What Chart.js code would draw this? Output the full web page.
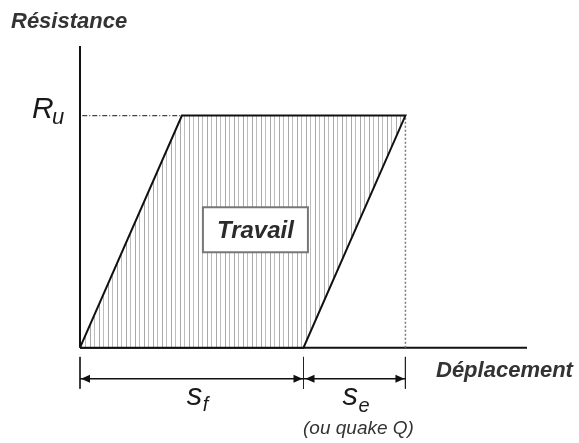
<!DOCTYPE html>
<html>
<head>
<meta charset="utf-8">
<script src="https://cdn.jsdelivr.net/npm/chart.js@4"></script>
<style>
  html, body { margin: 0; padding: 0; background: #fff; }
  #c { display: block; }
</style>
</head>
<body>
<canvas id="c" width="579" height="443"></canvas>
<script>
// values (displacement units, resistance as fraction of Ru)
const SF = 10;            // s_f
const SE = 4.56;          // s_e (quake Q)
const RU = 1;             // R_u
const workX = [0, SE, SF + SE, SF, 0];
const workY = [0, RU, RU, 0, 0];
const axisXEnd = 20;
const axisYEnd = 1.3;
const dimY = -0.134;
const dimTick = [-0.04, -0.177];
const dimMarks = [0, SF, SF + SE];

const font = '"Liberation Sans", Arial, sans-serif';

function hatch() {
  const p = document.createElement("canvas");
  p.width = 9; p.height = 4;
  const g = p.getContext("2d");
  g.fillStyle = "#fff";
  g.fillRect(0, 0, 9, 4);
  g.fillStyle = "#a8a8a8";
  g.fillRect(0, 0, 1, 4);
  g.fillStyle = "#bcbcbc";
  g.fillRect(4, 0, 1, 4);
  return document.getElementById("c").getContext("2d").createPattern(p, "repeat");
}

const pts = (xs, ys) => xs.map((x, i) => ({ x, y: ys[i] }));
const line = (data, color, width, dash) => ({
  data, borderColor: color, borderWidth: width, borderDash: dash || [],
  pointRadius: 0, fill: false, showLine: true, clip: false, tension: 0,
});

const labels = {
  id: "labels",
  afterDatasetsDraw(chart) {
    const { ctx, scales: { x, y } } = chart;
    ctx.save();
    // arrow heads on dimension lines
    const ay = y.getPixelForValue(dimY);
    const arrow = (tip, dir) => {
      ctx.beginPath();
      ctx.moveTo(tip, ay);
      ctx.lineTo(tip - dir * 9, ay - 4);
      ctx.lineTo(tip - dir * 9, ay + 4);
      ctx.closePath();
      ctx.fill();
    };
    ctx.fillStyle = "#111";
    const m = dimMarks.map((v) => x.getPixelForValue(v));
    arrow(m[0] + 1, -1); arrow(m[1] - 1, 1);
    arrow(m[1] + 2, -1); arrow(m[2] - 1, 1);

    // Travail box
    const bx = x.getPixelForValue(5.5), bw = 105, by = y.getPixelForValue(0.605), bh = 45;
    ctx.fillStyle = "#fff";
    ctx.fillRect(bx, by, bw, bh);
    ctx.strokeStyle = "#777";
    ctx.lineWidth = 2;
    ctx.strokeRect(bx, by, bw, bh);
    ctx.fillStyle = "#2b2b2b";
    ctx.textAlign = "center";
    ctx.textBaseline = "alphabetic";
    ctx.font = "bold italic 24px " + font;
    ctx.fillText("Travail", bx + bw / 2, by + 31);

    // axis titles
    ctx.fillStyle = "#333";
    ctx.textAlign = "left";
    ctx.font = "bold italic 22px " + font;
    ctx.fillText("Résistance", 11, 28);
    ctx.fillText("Déplacement", 436, 377);

    // R_u
    const ry = y.getPixelForValue(RU);
    ctx.fillStyle = "#1a1a1a";
    ctx.font = "italic 30px " + font;
    ctx.fillText("R", 32, ry + 2);
    ctx.font = "italic 22px " + font;
    ctx.fillText("u", 52, ry + 8);

    // s_f, s_e
    const sfx = (m[0] + m[1]) / 2, sex = (m[1] + m[2]) / 2;
    ctx.font = "italic 31px " + font;
    ctx.fillText("s", sfx - 5, 405);
    ctx.fillText("s", sex - 12, 405);
    ctx.font = "italic 20px " + font;
    ctx.fillText("f", sfx + 11, 411);
    ctx.fillText("e", sex + 4, 412);

    ctx.fillStyle = "#333";
    ctx.textAlign = "center";
    ctx.font = "italic 19px " + font;
    ctx.fillText("(ou quake Q)", sex + 4, 434);
    ctx.restore();
  },
};

new Chart(document.getElementById("c"), {
  type: "scatter",
  data: {
    datasets: [
      {
        data: pts(workX, workY),
        showLine: true, fill: "shape", backgroundColor: hatch(),
        borderColor: "#111", borderWidth: 2, pointRadius: 0, clip: false, tension: 0,
      },
      line(pts([0.1, SE], [RU, RU]), "#444", 1.2, [5, 2, 1, 2]),
      line(pts([SF + SE, SF + SE], [0, RU]), "#777", 1.5, [2, 2]),
      line(pts([0, 0], [0, axisYEnd]), "#111", 2),
      line(pts([0, axisXEnd], [0, 0]), "#111", 2),
      line(pts([dimMarks[0], dimMarks[2]], [dimY, dimY]), "#111", 1.5),
      ...dimMarks.map((v) => line(pts([v, v], dimTick), "#222", 1)),
    ],
  },
  options: {
    responsive: false,
    animation: false,
    events: [],
    layout: { padding: { left: 80, right: 52, top: 46, bottom: 0 } },
    plugins: { legend: { display: false }, tooltip: { enabled: false } },
    scales: {
      x: { type: "linear", display: false, min: 0, max: axisXEnd },
      y: { type: "linear", display: false, min: -0.411, max: axisYEnd },
    },
  },
  plugins: [labels],
});
</script>
</body>
</html>
